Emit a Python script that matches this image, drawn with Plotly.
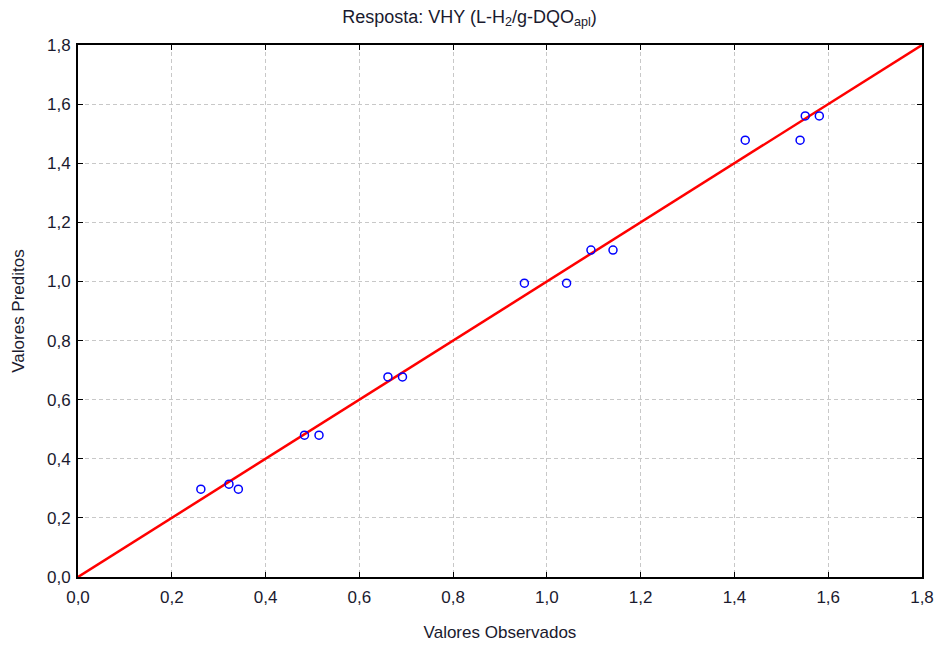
import plotly.graph_objects as go

observed = [0.262, 0.322, 0.342, 0.483, 0.514, 0.661, 0.692, 0.952, 1.042, 1.094, 1.141, 1.423, 1.540, 1.551, 1.581]
predicted = [0.297, 0.314, 0.297, 0.480, 0.480, 0.677, 0.677, 0.994, 0.994, 1.106, 1.106, 1.478, 1.478, 1.560, 1.560]
line_x = [0.0, 1.8]
line_y = [0.0, 1.8]
tick_vals = [0.0, 0.2, 0.4, 0.6, 0.8, 1.0, 1.2, 1.4, 1.6, 1.8]
tick_text = ["0,0", "0,2", "0,4", "0,6", "0,8", "1,0", "1,2", "1,4", "1,6", "1,8"]

fig = go.Figure()
fig.add_trace(go.Scatter(x=line_x, y=line_y, mode="lines",
                         line=dict(color="#ff0000", width=2.5), showlegend=False))
fig.add_trace(go.Scatter(x=observed, y=predicted, mode="markers",
                         marker=dict(symbol="circle-open", size=8, color="#0000ff",
                                     line=dict(width=1.5, color="#0000ff")),
                         showlegend=False))

font = "Liberation Sans, Arial, sans-serif"
txt = "#1a1a2e"
axis_common = dict(
    range=[0, 1.8], tickvals=tick_vals, ticktext=tick_text,
    showgrid=True, gridcolor="#c8c8c8", griddash="4px,3px", gridwidth=1,
    showline=True, linecolor="black", linewidth=2, mirror="ticks",
    ticks="inside", ticklen=5, tickcolor="black", tickwidth=1,
    zeroline=False, automargin=False, tickfont=dict(family=font, size=17, color=txt),
)
fig.update_xaxes(**axis_common, ticklabelstandoff=4,
                 title=dict(text="Valores Observados",
                            font=dict(family=font, size=17, color=txt), standoff=20))
fig.update_yaxes(**axis_common, ticklabelstandoff=2,
                 title=dict(text="Valores Preditos",
                            font=dict(family=font, size=17, color=txt), standoff=18))

fig.update_layout(
    width=939, height=648,
    margin=dict(l=78, r=17, t=45, b=71),
    plot_bgcolor="white", paper_bgcolor="white",
    title=dict(text="Resposta: VHY (L-H<sub>2</sub>/g-DQO<sub>apl</sub>)",
               x=0.5, xanchor="center", y=0.975, yanchor="middle",
               font=dict(family=font, size=18, color=txt)),
)
fig.write_html("out.html")
